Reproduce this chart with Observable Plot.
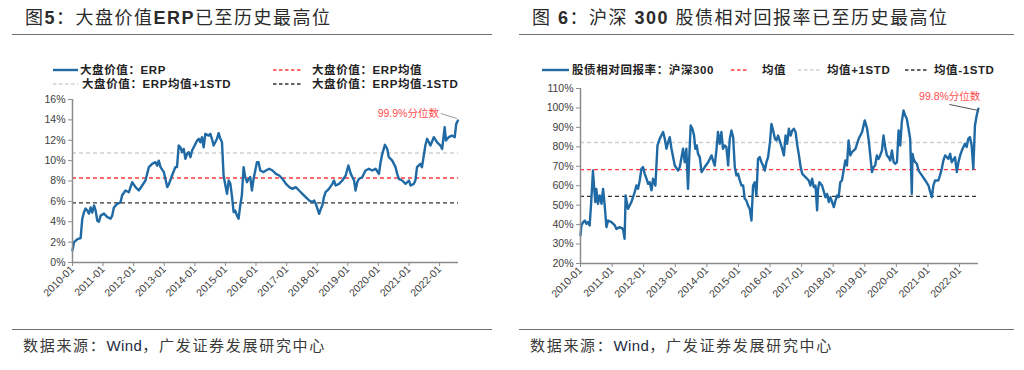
<!DOCTYPE html>
<html><head><meta charset="utf-8">
<script src="https://cdn.jsdelivr.net/npm/d3@7"></script>
<script src="https://cdn.jsdelivr.net/npm/@observablehq/plot@0.6"></script>
<style>
body{margin:0;background:#fff;width:1024px;height:370px;position:relative;overflow:hidden;font-family:"Liberation Sans","Noto Sans CJK SC",sans-serif;}
.a{position:absolute;white-space:nowrap;}
.title{font-size:18px;color:#2b2b2b;letter-spacing:1.5px;line-height:20px;}
.title b{font-weight:bold;}
.rule{position:absolute;height:0;border-top:1px solid #707070;}
.leg{font-size:11.5px;font-weight:bold;color:#222;letter-spacing:0.6px;line-height:14px;}
.foot{font-size:15px;color:#3a3a3a;letter-spacing:1.7px;line-height:18px;}
.foot span{color:#1d2a44;letter-spacing:0.4px;}
.sw{position:absolute;}
</style></head>
<body>
<div class="a title" style="left:25px;top:8px">图<b>5</b>：大盘价值<b>ERP</b>已至历史最高位</div>
<div class="a title" style="left:532px;top:8px">图 <b>6</b>：沪深 <b>300</b> 股债相对回报率已至历史最高位</div>
<div class="rule" style="left:12px;width:480px;top:34px"></div>
<div class="rule" style="left:519px;width:495px;top:34px"></div>
<div class="rule" style="left:12px;width:480px;top:329px"></div>
<div class="rule" style="left:519px;width:495px;top:329px"></div>
<div class="a foot" style="left:23px;top:337px">数据来源：<span>Wind</span>，广发证券发展研究中心</div>
<div class="a foot" style="left:530px;top:337px">数据来源：<span>Wind</span>，广发证券发展研究中心</div>
<div id="legends"></div>
<div id="c1" class="a" style="left:0;top:90px"></div>
<div id="c2" class="a" style="left:512px;top:80px"></div>
<script>
// ---------- Chart 1: 大盘价值 ERP (%) ----------
const erpDates = ["2010-01-01","2010-01-20","2010-03-01","2010-04-08","2010-04-28","2010-05-17","2010-06-06","2010-06-26","2010-07-16","2010-08-05","2010-08-25","2010-09-15","2010-10-04","2010-10-24","2010-11-13","2010-12-03","2011-01-12","2011-02-21","2011-04-01","2011-04-20","2011-05-10","2011-06-19","2011-07-28","2011-08-17","2011-09-26","2011-11-05","2011-12-15","2012-01-24","2012-03-03","2012-04-12","2012-05-21","2012-07-01","2012-08-09","2012-09-18","2012-10-08","2012-10-27","2012-11-17","2012-12-27","2013-02-05","2013-02-25","2013-04-04","2013-05-13","2013-06-02","2013-06-22","2013-07-12","2013-08-01","2013-08-21","2013-09-10","2013-09-30","2013-10-20","2013-11-09","2013-11-29","2014-01-08","2014-01-28","2014-02-17","2014-03-07","2014-03-27","2014-04-16","2014-05-06","2014-06-15","2014-07-04","2014-07-24","2014-08-13","2014-09-02","2014-09-22","2014-10-12","2014-11-01","2014-11-21","2014-12-10","2015-01-01","2015-01-20","2015-02-09","2015-03-01","2015-03-19","2015-04-09","2015-04-28","2015-05-18","2015-06-07","2015-06-27","2015-07-16","2015-08-06","2015-08-25","2015-09-15","2015-10-04","2015-10-24","2015-11-13","2015-12-03","2016-01-12","2016-02-01","2016-02-21","2016-04-01","2016-04-28","2016-06-07","2016-07-17","2016-08-26","2016-10-05","2016-11-14","2016-12-24","2017-02-02","2017-03-12","2017-04-20","2017-05-30","2017-07-08","2017-08-17","2017-09-26","2017-11-06","2017-11-25","2017-12-15","2018-01-24","2018-02-13","2018-03-03","2018-03-22","2018-04-11","2018-05-21","2018-07-01","2018-07-20","2018-08-09","2018-09-18","2018-10-28","2018-12-07","2019-01-08","2019-02-06","2019-03-17","2019-04-04","2019-04-24","2019-05-13","2019-06-22","2019-08-01","2019-09-10","2019-10-20","2019-11-29","2020-01-08","2020-01-28","2020-02-17","2020-03-19","2020-04-16","2020-05-05","2020-06-15","2020-07-24","2020-08-13","2020-09-02","2020-10-12","2020-11-21","2021-01-01","2021-01-19","2021-02-28","2021-03-18","2021-04-07","2021-05-16","2021-06-05","2021-07-15","2021-08-05","2021-09-14","2021-10-24","2021-12-03","2022-01-12","2022-02-01","2022-03-03","2022-03-18","2022-04-19","2022-05-28","2022-07-01","2022-07-19","2022-08-08"];
const erpValues = [1.2,2.0,2.3,2.4,4.3,4.9,5.3,5.1,4.8,5.4,4.9,5.6,5.1,4.1,4.0,4.6,4.8,4.45,4.3,4.6,5.4,5.76,5.9,6.6,7.07,6.9,7.88,7.4,7.07,7.56,8.05,9.36,9.68,9.85,9.5,10.0,9.36,8.87,7.4,7.7,8.54,9.36,9.36,11.48,11.3,10.83,11.15,10.17,10.67,10.83,10.34,11.0,11.64,11.97,12.14,11.8,12.3,11.3,12.63,12.46,12.63,12.14,11.48,11.8,12.14,12.7,12.14,11.8,8.54,7.56,6.74,8.05,7.72,6.58,4.94,5.1,4.62,4.29,5.6,6.58,9.36,8.4,7.88,8.2,8.4,7.07,8.2,9.85,9.85,9.03,8.87,9.03,9.2,9.03,8.7,8.54,8.2,7.72,7.4,7.23,7.4,7.07,6.74,6.41,6.09,5.92,6.09,5.76,4.78,5.27,5.6,6.41,6.9,7.23,7.72,8.05,7.56,7.72,8.05,8.54,9.52,8.7,8.05,7.07,7.88,8.2,8.37,9.03,9.2,9.03,9.2,8.7,9.85,10.67,11.55,11.15,10.34,10.0,9.36,8.7,8.2,8.05,7.72,8.05,7.56,7.72,8.05,9.36,9.68,9.36,11.48,12.14,11.48,12.3,11.8,11.48,11.15,13.28,11.97,12.3,12.46,12.3,13.61,13.94];
const erpRefs = {mean: 8.3, plus: 10.75, minus: 5.85};
const erpYTicks = [0, 2, 4, 6, 8, 10, 12, 14, 16];
const erpLegend = ["大盘价值：ERP", "大盘价值：ERP均值", "大盘价值：ERP均值+1STD", "大盘价值：ERP均值-1STD"];
const erpNote = "99.9%分位数";

// ---------- Chart 2: 股债相对回报率 沪深300 (%) ----------
const hsDates = ["2010-01-01","2010-01-12","2010-02-01","2010-02-20","2010-03-09","2010-03-28","2010-04-17","2010-05-06","2010-05-25","2010-06-06","2010-06-21","2010-07-03","2010-07-22","2010-08-11","2010-09-01","2010-09-19","2010-10-08","2010-10-28","2010-11-16","2010-12-25","2011-02-02","2011-02-21","2011-03-30","2011-05-07","2011-05-26","2011-06-07","2011-07-04","2011-08-12","2011-09-20","2011-10-09","2011-10-28","2011-11-17","2011-12-06","2011-12-25","2012-01-14","2012-02-03","2012-02-22","2012-03-11","2012-04-01","2012-04-19","2012-05-16","2012-06-09","2012-07-05","2012-07-24","2012-08-13","2012-09-02","2012-09-21","2012-10-10","2012-10-29","2012-11-18","2012-12-26","2013-02-03","2013-02-22","2013-04-01","2013-04-20","2013-05-09","2013-05-28","2013-06-09","2013-06-28","2013-07-18","2013-08-06","2013-08-21","2013-09-06","2013-09-21","2013-10-11","2013-11-01","2013-12-08","2014-01-16","2014-02-24","2014-03-13","2014-04-02","2014-04-21","2014-05-10","2014-05-30","2014-06-18","2014-07-07","2014-07-27","2014-08-15","2014-09-04","2014-09-23","2014-10-12","2014-11-01","2014-11-20","2014-12-09","2014-12-28","2015-01-17","2015-02-06","2015-02-25","2015-03-15","2015-04-03","2015-04-22","2015-05-12","2015-06-01","2015-06-19","2015-07-09","2015-07-28","2015-08-16","2015-09-05","2015-09-24","2015-10-13","2015-11-02","2015-11-21","2015-12-10","2016-01-01","2016-01-18","2016-02-07","2016-02-27","2016-03-16","2016-04-04","2016-05-15","2016-06-10","2016-06-29","2016-07-18","2016-08-06","2016-08-26","2016-09-15","2016-10-03","2016-10-23","2016-11-12","2016-12-01","2016-12-20","2017-01-08","2017-02-15","2017-03-24","2017-04-13","2017-05-02","2017-05-21","2017-06-10","2017-06-29","2017-07-10","2017-07-25","2017-08-25","2017-10-03","2017-10-22","2017-11-11","2017-11-30","2018-01-08","2018-01-27","2018-02-15","2018-03-05","2018-03-24","2018-04-12","2018-05-21","2018-06-09","2018-06-28","2018-07-18","2018-08-06","2018-09-15","2018-10-22","2018-12-01","2019-01-01","2019-01-28","2019-02-16","2019-03-25","2019-04-13","2019-05-01","2019-05-21","2019-06-09","2019-06-28","2019-07-18","2019-08-06","2019-08-25","2019-09-14","2019-10-03","2019-10-22","2019-11-11","2019-12-01","2019-12-19","2020-01-08","2020-01-27","2020-02-15","2020-03-04","2020-03-24","2020-04-12","2020-05-01","2020-05-21","2020-06-09","2020-06-28","2020-07-06","2020-07-18","2020-08-06","2020-08-25","2020-09-14","2020-10-22","2020-12-01","2021-01-07","2021-01-27","2021-02-15","2021-03-04","2021-03-24","2021-05-01","2021-05-20","2021-06-09","2021-06-28","2021-07-18","2021-08-25","2021-09-14","2021-10-03","2021-11-10","2021-11-30","2021-12-19","2022-01-08","2022-01-27","2022-03-04","2022-03-24","2022-04-12","2022-05-01","2022-05-21","2022-06-09","2022-06-28","2022-07-18","2022-08-06"];
const hsValues = [34.4,39.6,41.3,42.1,40.4,41.3,39.6,52.4,67.8,60.1,51.6,58.4,50.7,55,50.7,58.4,49.8,38.7,42.1,41.3,39.6,37.8,38.7,37.8,32.7,55,48.1,51.6,56.7,60.1,58.4,62.7,68.7,69.6,66.1,63.6,61,61.8,57.6,63.6,60.1,80.7,84.1,85.8,87.6,84.1,79,82.4,85,79,70.4,67.8,69.6,79,72.1,79,58.4,72.1,91,89.3,85.8,79,80.7,76.4,74.7,67,69.6,72.1,75.6,73,70.4,78.1,87.6,81.6,87.6,79,80.7,79.9,70.4,84.1,88.4,85,69.6,65.3,66.1,62.7,60.1,60.1,53.3,52.4,49.8,48.1,42.1,60.1,61.8,55,73.8,74.7,72.1,70.4,67.8,72.1,74.7,82.4,91.8,88.4,84.1,83.3,85.8,80,75.6,85.8,81.6,89.3,85.8,88.4,89.3,87.6,80.7,75.6,69.6,66.1,64.4,62.7,60.1,63.6,59.3,60.1,47.3,58.4,61.8,60.1,54.1,55.8,51.6,54.1,49,52.4,55,54.1,61.8,62.7,73,70.4,83.3,75.6,77.3,79,84.1,87.6,93.6,89.3,83.3,67,69.6,70.4,75.6,73.8,75.6,78.1,85.8,79.9,75.6,74.7,73,78.1,72.1,71.3,72.1,88.4,80.7,92.7,98.7,96.1,94.4,89.3,84.1,55.8,76.4,73.8,72.1,71.3,67.8,65.3,62.7,60.1,56.7,54.1,60.1,62.7,62.7,65.3,68.7,73,75.6,73.8,76.4,72.1,74.7,67,72.1,75.6,78.1,81.6,79.9,84.1,85,80.7,68.7,91,96.1,99.6];
const hsRefs = {mean: 68.3, plus: 82.2, minus: 54.5};
const hsYTicks = [20, 30, 40, 50, 60, 70, 80, 90, 100, 110];
const hsLegend = ["股债相对回报率：沪深300", "均值", "均值+1STD", "均值-1STD"];
const hsNote = "99.8%分位数";

// shared
const yearTicks = ["2010-01","2011-01","2012-01","2013-01","2014-01","2015-01","2016-01","2017-01","2018-01","2019-01","2020-01","2021-01","2022-01"];

const C = {line: "#1f6aa5", mean: "#ff3b3b", plus: "#d0d0d0", minus: "#333333", axis: "#8c8c8c", text: "#404040", note: "#ff4d4d"};
const DASH = "4,3";
const DAY = 864e5;

function build(dates, values, refs, yTicks, cfg) {
  const data = dates.map((d, i) => ({date: new Date(d), value: values[i]}));
  const last = data[data.length - 1];
  const xt = yearTicks.map(s => new Date(s + "-01"));
  return Plot.plot({
    width: 512, height: cfg.height,
    marginTop: cfg.mt, marginRight: cfg.mr, marginBottom: cfg.mb, marginLeft: cfg.ml,
    style: {fontFamily: '"Liberation Sans", Arial, sans-serif', fontSize: "10.5px", color: C.text, background: "transparent", overflow: "visible"},
    x: {type: "utc", domain: [xt[0], new Date(cfg.xEnd)], label: null},
    y: {domain: [yTicks[0], yTicks[yTicks.length - 1]], label: null},
    marks: [
      Plot.ruleY([refs.plus], {stroke: C.plus, strokeDasharray: DASH, strokeWidth: 1.4}),
      Plot.ruleY([refs.mean], {stroke: C.mean, strokeDasharray: DASH, strokeWidth: 1.4}),
      Plot.ruleY([refs.minus], {stroke: C.minus, strokeDasharray: DASH, strokeWidth: 1.4}),
      Plot.line(data, {x: "date", y: "value", stroke: C.line, strokeWidth: 2.4, strokeLinejoin: "round"}),
      Plot.ruleX([xt[0]], {stroke: C.axis, strokeWidth: 1.5}),
      Plot.ruleY([yTicks[0]], {stroke: C.axis, strokeWidth: 1.5}),
      Plot.axisY(yTicks, {tickSize: 4, tickPadding: 3, stroke: C.axis, tickFormat: d => d + "%", label: null}),
      Plot.axisX(xt, {tickSize: 4, tickPadding: 1, stroke: C.axis, tickRotate: -45, tickFormat: d3.utcFormat("%Y-%m"), label: null}),
      Plot.link([last], {x1: d => new Date(+d.date - cfg.link.days * DAY), y1: d => d.value + cfg.link.dy1, x2: d => new Date(+d.date - cfg.link.days2 * DAY), y2: d => d.value + cfg.link.dy2, stroke: cfg.link.color, strokeWidth: 1}),
      Plot.text([last], {x: "date", y: "value", text: () => cfg.note, dx: cfg.ndx, dy: cfg.ndy, textAnchor: "end", fill: C.note, fontSize: 10.5, fontFamily: '"Liberation Sans","Noto Sans CJK SC"'})
    ]
  });
}

document.getElementById("c1").append(build(erpDates, erpValues, erpRefs, erpYTicks, {
  height: 230, mt: 9, mr: 54, mb: 58, ml: 72, xEnd: "2022-08-15", note: erpNote, ndx: -19, ndy: -7,
  link: {days: 203, dy1: 0.68, days2: 12, dy2: 0.2, color: "#9a9a9a"}
}));
document.getElementById("c2").append(build(hsDates, hsValues, hsRefs, hsYTicks, {
  height: 240, mt: 8, mr: 46, mb: 57, ml: 68, xEnd: "2022-08-08", note: hsNote, ndx: 2, ndy: -12,
  link: {days: 335, dy1: 2.2, days2: 0, dy2: -0.9, color: "#555555"}
}));

// legends (HTML)
function swatch(x1, x2, y, color, dash, w) {
  const s = document.createElementNS("http://www.w3.org/2000/svg", "svg");
  s.setAttribute("class", "sw");
  s.setAttribute("width", x2 - x1); s.setAttribute("height", 6);
  s.style.left = x1 + "px"; s.style.top = (y - 3) + "px";
  s.innerHTML = `<line x1="0" x2="${x2 - x1}" y1="3" y2="3" stroke="${color}" stroke-width="${w}" ${dash ? `stroke-dasharray="${dash}"` : ""}/>`;
  return s;
}
function label(x, y, text) {
  const d = document.createElement("div");
  d.className = "a leg"; d.style.left = x + "px"; d.style.top = (y - 7) + "px";
  d.textContent = text; return d;
}
const L = document.getElementById("legends");
const styles = [[C.line, null, 2.4], [C.mean, "3.5,2.5", 1.3], [C.plus, "3.5,2.5", 1.3], [C.minus, "3.5,2.5", 1.3]];
const leftPos = [[53, 78, 70, 80], [273, 302, 70, 312], [53, 78, 84, 82], [273, 302, 84, 312]];
const rightPos = [[542, 569, 70, 572], [731, 748, 70, 762], [798, 820, 70, 827], [905, 927, 70, 934]];
erpLegend.forEach((t, i) => { const p = leftPos[i], s = styles[i]; L.append(swatch(p[0], p[1], p[2], s[0], s[1], s[2]), label(p[3], p[2], t)); });
hsLegend.forEach((t, i) => { const p = rightPos[i], s = styles[i]; L.append(swatch(p[0], p[1], p[2], s[0], s[1], s[2]), label(p[3], p[2], t)); });
</script>
</body></html>
